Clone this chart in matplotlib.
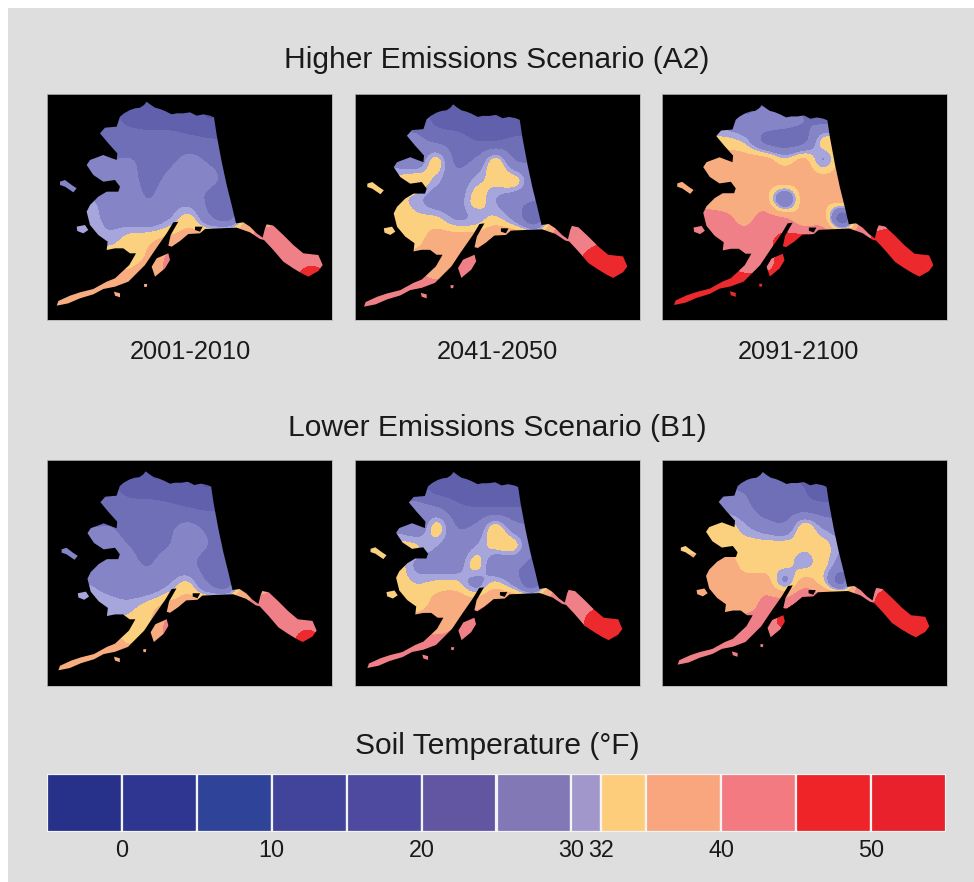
import numpy as np
import matplotlib
matplotlib.use("Agg")
import matplotlib.pyplot as plt
from matplotlib.path import Path
from matplotlib.patches import PathPatch, Rectangle
from matplotlib.colors import ListedColormap, BoundaryNorm

plt.rcParams['font.family'] = ['Liberation Sans', 'DejaVu Sans']

# Chart text
scenario_titles = ["Higher Emissions Scenario (A2)", "Lower Emissions Scenario (B1)"]
decades = ["2001-2010", "2041-2050", "2091-2100"]
legend_title = "Soil Temperature (°F)"

# Legend classes
levels = [-5, 0, 5, 10, 15, 20, 25, 30, 32, 35, 40, 45, 50, 55]
legend_colors = ["#27318a", "#2e3691", "#2f4399", "#42449c", "#4d4a9f", "#6256a3", "#8378b6",
                 "#a297ca", "#fdcd7c", "#f9a67e", "#f47a82", "#ee2429", "#e8212c"]
map_colors = ["#3d3d92", "#45459a", "#4d4da0", "#5555a6", "#6060ad", "#6f6fb8", "#8484c6",
              "#a6a6dc", "#fbd17f", "#f8ad80", "#f08088", "#ec2a2e", "#e8212c"]
tick_values = [0, 10, 20, 30, 32, 40, 50]

# Outline of the state, island shapes (map units)
mainland = [(320,50),(330,58),(345,68),(360,72),(375,78),(395,88),(410,85),(430,85),(450,82),(470,92),
            (490,88),(510,92),(522,97),(530,150),(545,230),(560,300),(575,360),(588,415),(610,412),
            (630,425),(650,445),(668,458),(675,430),(680,418),(700,422),(730,450),(760,480),(790,505),
            (835,510),(848,540),(835,558),(805,575),(785,565),(760,550),(730,530),(700,495),(672,465),
            (660,462),(630,442),(590,428),(540,430),(495,432),(480,445),(445,447),(420,468),(395,485),
            (385,482),(392,450),(415,410),(400,412),(380,445),(352,485),(335,510),(315,540),(285,570),
            (265,590),(225,605),(190,612),(160,628),(120,640),(85,655),(50,662),(55,648),(90,632),
            (120,622),(160,612),(200,590),(225,580),(268,540),(288,505),(270,505),(250,490),(225,490),
            (200,495),(203,470),(175,450),(150,420),(140,380),(150,360),(175,335),(200,320),(235,320),
            (240,305),(225,285),(190,290),(160,270),(140,240),(150,225),(190,210),(230,225),(232,205),
            (205,175),(180,145),(195,128),(230,125),(240,95),(252,85),(270,75),(285,70),(300,68),(312,60)]
kodiak = [(385,505),(390,525),(375,550),(345,575),(335,545),(350,520)]
st_lawrence = [(60,290),(75,285),(95,300),(110,310),(100,322),(75,305),(60,300)]
nunivak = [(110,425),(135,420),(145,435),(130,445),(112,438)]
islet_a = [(312,597),(322,597),(320,606),(313,606)]
islet_b = [(222,620),(240,625),(240,637),(225,632)]
sound = [(465,425),(488,425),(480,440),(465,435)]

# Soil temperature, rows north to south, columns west to east
grid_x = [30, 90, 150, 210, 270, 330, 390, 450, 510, 570, 630, 690, 750, 810, 870]
grid_y = [40, 100, 160, 220, 280, 340, 400, 460, 520, 580, 640, 700]

a2_2001 = [
 [22,22,22,22,17,17,17,17,17,17,17,17,17,17,17],
 [22,22,22,22,18,17,17,16,15,16,17,17,17,17,17],
 [24,24,24,24,23,22,22,21,20,20,20,20,20,20,20],
 [27,27,26,25,25,24,24,26,24,23,23,23,23,23,23],
 [28,28,29,27,26,24,26,29,26,24,24,24,24,24,24],
 [30,30,30,29,27,25,28,28,24,23,23,23,23,23,23],
 [31,31,31,29,28,27,30,33,26,24,37,37,41,41,41],
 [32,32,32,31,33,34,36,37,38,40,40,42,42,42,42],
 [34,34,34,34,34,36,41,40,40,40,42,42,42,43,43],
 [37,37,37,37,36,38,40,40,40,42,42,43,43,47,44],
 [37,37,37,37,37,37,37,37,37,37,37,37,37,37,37],
 [37,37,37,37,37,37,37,37,37,37,37,37,37,37,37],
]
a2_2041 = [
 [22,22,22,22,18,18,18,18,18,18,18,18,18,18,18],
 [23,23,23,23,19,18,18,18,17,18,18,18,18,18,18],
 [26,26,26,26,24,22,20,20,21,21,21,21,21,21,21],
 [29,29,28,27,33,24,26,33,25,25,25,25,25,25,25],
 [33,33,33,34,31,27,31,33,33,26,26,26,26,26,26],
 [31,33,33,31,28,28,33,30,27,25,25,25,25,25,25],
 [33,33,34,33,33,30,31,33,29,22,38,38,42,42,42],
 [33,33,33,34,37,38,38,41,41,41,41,42,44,46,46],
 [37,37,37,37,37,40,42,41,41,41,42,44,47,47,47],
 [41,41,41,41,40,41,41,41,41,42,42,42,44,47,47],
 [41,41,41,41,41,41,41,41,41,41,41,41,41,41,41],
 [41,41,41,41,41,41,41,41,41,41,41,41,41,41,41],
]
a2_2091 = [
 [28,28,28,28,24,24,24,24,24,24,24,24,24,24,24],
 [28,28,28,28,26,28,27,25,24,24,24,24,24,24,24],
 [33,33,33,33,31,24,22,24,33,33,33,33,33,33,33],
 [37,37,37,37,37,37,33,36,30,37,37,37,37,37,37],
 [37,37,37,37,37,37,37,37,37,37,37,37,37,37,37],
 [39,39,39,38,37,37,26,37,36,37,37,37,37,37,37],
 [41,41,41,41,39,42,41,37,37,22,42,42,44,44,44],
 [42,42,42,42,42,44,46,47,45,46,44,47,47,47,47],
 [43,43,43,43,42,43,47,47,47,47,47,47,47,47,47],
 [46,46,46,47,46,46,46,46,46,46,47,47,47,47,47],
 [47,47,47,47,47,47,47,47,47,47,47,47,47,47,47],
 [47,47,47,47,47,47,47,47,47,47,47,47,47,47,47],
]
b1_2001 = [
 [21,21,21,21,17,17,17,17,17,17,17,17,17,17,17],
 [21,21,21,21,18,17,17,16,15,16,16,16,16,16,16],
 [23,23,23,23,22,22,21,20,19,19,19,19,19,19,19],
 [26,26,25,25,24,23,24,26,24,23,23,23,23,23,23],
 [27,27,27,26,25,24,25,27,25,23,23,23,23,23,23],
 [29,29,29,28,26,25,27,27,23,23,23,23,23,23,23],
 [30,30,30,29,27,27,30,33,26,23,37,37,41,41,41],
 [31,31,31,31,31,33,36,37,38,40,40,42,42,42,42],
 [33,33,33,33,33,35,41,40,40,40,42,42,42,44,44],
 [37,37,37,37,35,37,40,40,40,42,42,43,43,46,44],
 [37,37,37,37,37,37,37,37,37,37,37,37,37,37,37],
 [37,37,37,37,37,37,37,37,37,37,37,37,37,37,37],
]
b1_2041 = [
 [22,22,22,22,18,18,18,18,18,18,18,18,18,18,18],
 [22,22,22,22,18,18,18,17,17,18,18,18,18,18,18],
 [26,26,26,26,25,21,20,20,20,20,20,20,20,20,20],
 [28,28,28,27,33,25,26,33,27,25,25,25,25,25,25],
 [33,33,33,32,30,27,30,33,33,25,25,25,25,25,25],
 [31,32,33,29,28,28,33,27,26,24,24,24,24,24,24],
 [33,33,33,32,33,33,29,33,29,22,38,38,42,42,42],
 [33,33,33,33,37,38,38,41,41,41,41,42,44,46,46],
 [38,38,38,38,38,40,42,41,41,41,42,43,46,47,47],
 [41,41,41,41,41,41,41,41,41,42,42,42,44,47,47],
 [41,41,41,41,41,41,41,41,41,41,41,41,41,41,41],
 [41,41,41,41,41,41,41,41,41,41,41,41,41,41,41],
]
b1_2091 = [
 [24,24,24,24,20,20,20,20,20,20,20,20,20,20,20],
 [25,25,25,25,24,22,21,20,19,20,20,20,20,20,20],
 [28,28,28,28,26,22,22,22,21,21,21,21,21,21,21],
 [33,33,33,33,30,27,26,33,29,27,27,27,27,27,27],
 [33,33,33,33,33,33,33,33,33,30,30,30,30,30,30],
 [37,37,37,37,33,33,33,31,33,28,28,28,28,28,28],
 [37,37,37,37,37,37,30,37,33,24,42,42,46,46,46],
 [37,37,37,37,38,41,42,46,44,44,42,46,47,47,47],
 [41,41,41,41,41,42,47,46,46,46,46,46,47,47,47],
 [42,42,42,42,42,42,42,42,42,42,46,46,47,47,47],
 [42,42,42,42,42,42,42,42,42,42,42,42,42,42,42],
 [42,42,42,42,42,42,42,42,42,42,42,42,42,42,42],
]

a2_maps = [a2_2001, a2_2041, a2_2091]
b1_maps = [b1_2001, b1_2041, b1_2091]

# Layout, in pixels
W, H = 974, 882
panel_left = [47, 355, 662]
panel_top = [94, 460]
panel_w, panel_h = 285, 226
# per-panel map extents: west tail x, tip y, south-east x, tail y (zoom pixels within crop)
extents = [[(50,50,848,662), (48,58,838,665), (57,60,835,660)],
           [(55,58,830,655), (58,60,823,648), (68,60,823,638)]]


def px_axes(fig, x, y, w, h):
    return fig.add_axes([x / W, 1 - (y + h) / H, w / W, h / H])


def poly_path(polys):
    verts, codes = [], []
    for p in polys:
        verts += list(p) + [p[0]]
        codes += [Path.MOVETO] + [Path.LINETO] * (len(p) - 1) + [Path.CLOSEPOLY]
    return np.array(verts, float), codes


fig = plt.figure(figsize=(W / 100, H / 100), dpi=100, facecolor="white")
bg = fig.add_axes([0, 0, 1, 1])
bg.set_xlim(0, W); bg.set_ylim(H, 0); bg.axis("off")
bg.add_patch(Rectangle((8, 8), W - 8, H - 8, fc="#dedede", ec="none"))
for txt, y in zip(scenario_titles, [60, 428]):
    bg.text(497, y, txt, ha="center", va="center", fontsize=21.6, color="#1a1a1a")
for txt, x in zip(decades, [190, 497, 798]):
    bg.text(x, 352, txt, ha="center", va="center", fontsize=18.3, color="#1a1a1a")
bg.text(497, 746, legend_title, ha="center", va="center", fontsize=21.6, color="#1a1a1a")

verts, codes = poly_path([mainland, kodiak, st_lawrence, nunivak, islet_a, islet_b])
hole, hole_codes = poly_path([sound])
cmap = ListedColormap(map_colors)
norm = BoundaryNorm(levels, cmap.N)
half_x = (grid_x[1] - grid_x[0]) / 2
half_y = (grid_y[1] - grid_y[0]) / 2

for r, maps in enumerate([a2_maps, b1_maps]):
    for c, values in enumerate(maps):
        ax = px_axes(fig, panel_left[c], panel_top[r], panel_w, panel_h)
        ax.set_facecolor("black")
        ax.set_xticks([]); ax.set_yticks([])
        for s in ax.spines.values():
            s.set_color("#b5b5b5"); s.set_linewidth(0.6)
        x0, y0, x1, y1 = extents[r][c]
        off_y = 27 if r == 0 else 24
        sx = (x1 - x0) / (848 - 50); sy = (y1 - y0) / (662 - 50)
        tx = lambda a: (x0 + sx * (np.asarray(a, float) - 50) - 21) / 3
        ty = lambda a: (y0 + sy * (np.asarray(a, float) - 50) - off_y) / 3
        im = ax.imshow(np.array(values, float), cmap=cmap, norm=norm, aspect="auto", origin="upper",
                       interpolation="catrom", interpolation_stage="data",
                       extent=[float(tx(grid_x[0] - half_x)), float(tx(grid_x[-1] + half_x)),
                               float(ty(grid_y[-1] + half_y)), float(ty(grid_y[0] - half_y))])
        ax.set_xlim(0, panel_w); ax.set_ylim(panel_h, 0)
        clip = PathPatch(Path(np.c_[tx(verts[:, 0]), ty(verts[:, 1])], codes),
                         fc="none", ec="none", transform=ax.transData)
        ax.add_patch(clip)
        im.set_clip_path(clip)
        ax.add_patch(PathPatch(Path(np.c_[tx(hole[:, 0]), ty(hole[:, 1])], hole_codes),
                               fc="black", ec="none"))

# Legend
lax = px_axes(fig, 47, 774, 899, 58)
lax.set_xlim(levels[0], levels[-1]); lax.set_ylim(0, 1)
lax.bar(levels[:-1], 1, width=np.diff(levels), align="edge", color=legend_colors,
        edgecolor="#f4f4f4", linewidth=1.6)
lax.set_yticks([])
lax.set_xticks(tick_values)
lax.set_xticklabels([str(t) for t in tick_values], fontsize=16.8, color="#1a1a1a")
lax.tick_params(axis="x", length=0, pad=5)
for s in lax.spines.values():
    s.set_visible(False)

fig.savefig("out.png", dpi=100)
